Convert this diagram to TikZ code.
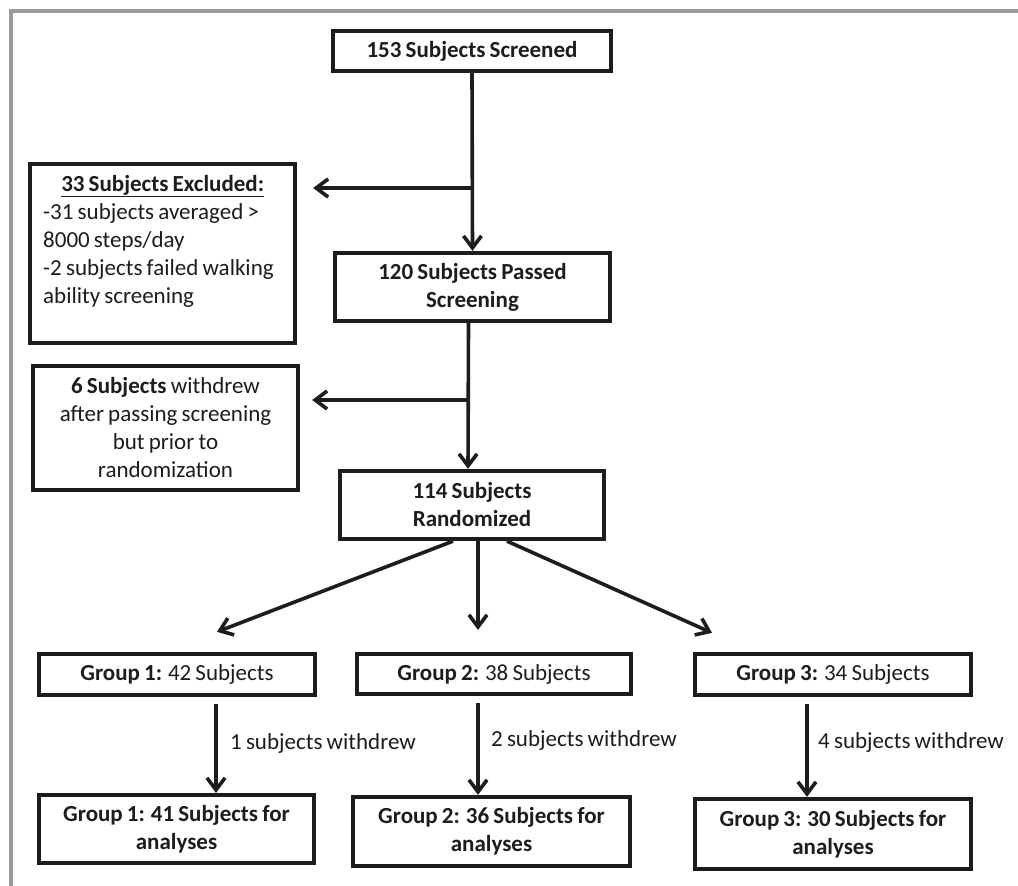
\documentclass[tikz,border=0pt]{standalone}
\usepackage{fontspec}
\setmainfont{Carlito}[WordSpace=0.8]
\usetikzlibrary{arrows.meta}
\definecolor{ink}{RGB}{30,28,28}
\definecolor{framegray}{RGB}{155,155,155}
\begin{document}
\begin{tikzpicture}[x=1pt,y=-1pt,
  box/.style={draw=ink, text=ink, line width=3.8pt, inner sep=0pt, align=center,
    font=\fontsize{23}{28}\selectfont},
  lbl/.style={text=ink, inner sep=0pt, font=\fontsize{23}{28}\selectfont},
  arr/.style={draw=ink, line width=3.6pt,
    -{Straight Barb[length=12pt,width=18pt]}},
  frameline/.style={draw=framegray, line width=4pt}
]
\useasboundingbox (0,0) rectangle (1018,886);
\fill[white] (0,0) rectangle (1018,886);
\draw[frameline] (10.5,886) -- (10.5,11) -- (1018,11);

% top column
\node[box, minimum width=278.5pt, minimum height=40.5pt] (n1) at (472,51)
  {\textbf{153 Subjects Screened}};
\node[box, minimum width=275.5pt, minimum height=68.5pt] (n2) at (472.5,287)
  {\textbf{120 Subjects Passed}\\\textbf{Screening}};
\node[box, minimum width=264.5pt, minimum height=68.5pt] (n3) at (472,505)
  {\textbf{114 Subjects}\\\textbf{Randomized}};

% side boxes
\node[box, minimum width=265.5pt, minimum height=179.5pt] (excl) at (162.5,253.5) {};
\node[lbl, anchor=north west, align=left] (excltext) at (43,175)
  {\makebox[239pt][c]{\underline{\textbf{33 Subjects Excluded:}}}\\
   -31 subjects averaged >\\
   8000 steps/day\\
   -2 subjects failed walking\\
   ability screening};
\node[box, minimum width=265.5pt, minimum height=124.5pt] (w6) at (165.5,428)
  {\textbf{6 Subjects} withdrew\\after passing screening\\but prior to\\randomization};

% groups
\node[box, minimum width=276.5pt, minimum height=41.5pt] (g1) at (177,674.5)
  {\textbf{Group 1:} 42 Subjects};
\node[box, minimum width=274.5pt, minimum height=40.5pt] (g2) at (494,674)
  {\textbf{Group 2:} 38 Subjects};
\node[box, minimum width=276.5pt, minimum height=41.5pt] (g3) at (833,674.5)
  {\textbf{Group 3:} 34 Subjects};

\node[box, minimum width=275.5pt, minimum height=68.5pt] (a1) at (176.5,829)
  {\textbf{Group 1: 41 Subjects for}\\\textbf{analyses}};
\node[box, minimum width=277.5pt, minimum height=69.5pt] (a2) at (491.5,831.5)
  {\textbf{Group 2: 36 Subjects for}\\\textbf{analyses}};
\node[box, minimum width=276.5pt, minimum height=70.5pt] (a3) at (833,834)
  {\textbf{Group 3: 30 Subjects for}\\\textbf{analyses}};

% labels
\node[lbl, anchor=west] (l1) at (230,743) {1 subjects withdrew};
\node[lbl, anchor=west] (l2) at (491,740) {2 subjects withdrew};
\node[lbl, anchor=west] (l3) at (818,742) {4 subjects withdrew};

% connectors
\draw[arr] (n1.south) -- (n2.north);
\coordinate (b1) at (472,188);
\draw[arr] (b1) -- ([xshift=16pt]excl.east |- b1);

\draw[arr] ([xshift=-4pt]n2.south) -- ([xshift=-4pt]n3.north);
\coordinate (b2) at (468,400);
\draw[arr] (b2) -- ([xshift=12pt]w6.east |- b2);

\draw[arr] ([xshift=-19pt]n3.south) -- ([xshift=40pt,yshift=20pt]g1.north);
\draw[arr] ([xshift=6pt]n3.south) -- ([xshift=-16pt,yshift=22pt]g2.north);
\draw[arr] ([xshift=35pt]n3.south) -- ([xshift=-121pt,yshift=19pt]g3.north);

\draw[arr] ([xshift=39pt,yshift=-7pt]g1.south) -- ([xshift=39.5pt]a1.north);
\draw[arr] ([xshift=-16pt,yshift=-7pt]g2.south) -- ([xshift=-13.5pt]a2.north);
\draw[arr] ([xshift=-26pt,yshift=-7pt]g3.south) -- ([xshift=-26pt]a3.north);
\end{tikzpicture}
\end{document}
